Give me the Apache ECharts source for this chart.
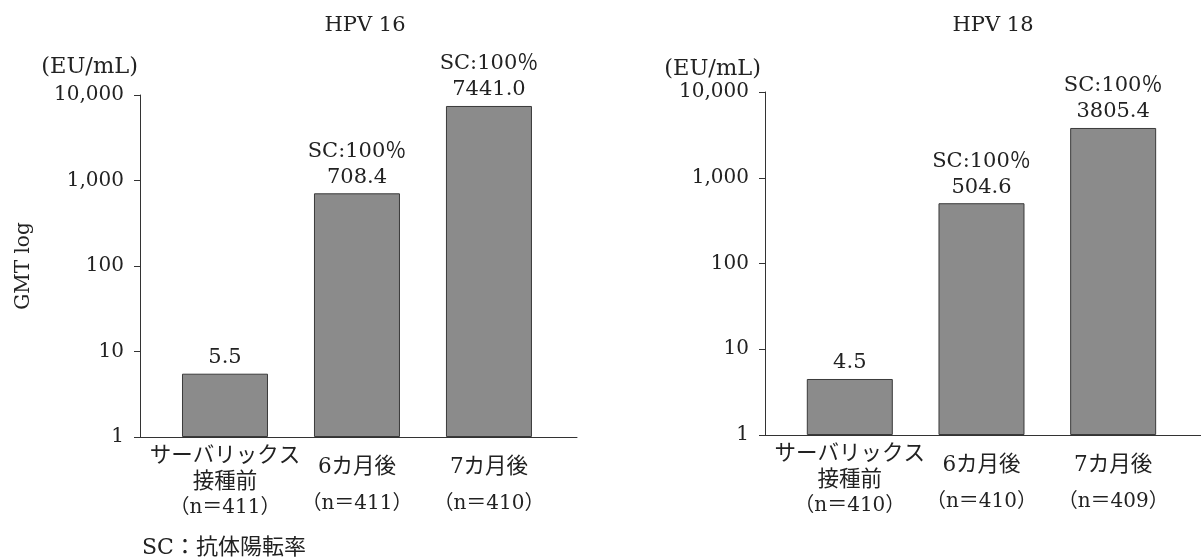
<!DOCTYPE html>
<html>
<head>
<meta charset="utf-8">
<script src="https://cdn.jsdelivr.net/npm/echarts@6/dist/echarts.min.js"></script>
<style>
html,body{margin:0;padding:0;background:#fff;}
#chart{width:1201px;height:559px;}
</style>
</head>
<body>
<div id="chart"></div>
<script>
// ---- data ----
const categoryNames = ['サーバリックス\n接種前', '6カ月後', '7カ月後'];
const categoryPos = [0, 1, 2];
const hpv16Gmt = [5.5, 708.4, 7441.0];
const hpv18Gmt = [4.5, 504.6, 3805.4];
const hpv16N = [411, 411, 410];
const hpv18N = [410, 410, 409];
const hpv16SC = [null, 100, 100];
const hpv18SC = [null, 100, 100];
const yTickValues = [1, 10, 100, 1000, 10000];
const panelTitles = ['HPV 16', 'HPV 18'];
const unitLabel = '(EU/mL)';
const yAxisTitle = 'GMT log';
const footnote = 'SC：抗体陽転率';

const SERIF = '"DejaVu Serif", "Noto Sans CJK JP", serif';
const TXT = '#222';
const AXIS = '#333';

function catLabel(nArr) {
  return function (v) {
    const i = Math.round(v);
    const name = categoryNames[i];
    const n = '{n|（n＝' + nArr[i] + '）}';
    if (name.indexOf('\n') >= 0) {
      return name.split('\n').map(s => '{l|' + s + '}').join('\n') + '\n' + n;
    }
    return '{m|' + name + '}\n' + n;
  };
}

function xAxisFor(gridIndex, nArr) {
  return {
    type: 'value', gridIndex: gridIndex,
    min: -0.644, max: 2.667,
    axisLine: { show: true, onZero: false, lineStyle: { color: AXIS, width: 1 } },
    axisTick: { show: false },
    splitLine: { show: false },
    axisLabel: {
      customValues: categoryPos,
      margin: 6,
      color: TXT,
      fontFamily: SERIF,
      fontSize: 20,
      formatter: catLabel(nArr),
      rich: {
        l: { fontSize: 21.5, lineHeight: 26, fontFamily: SERIF, color: TXT },
        m: { fontSize: 21.5, lineHeight: 48, fontFamily: SERIF, color: TXT },
        n: { fontSize: 20, lineHeight: 26, fontFamily: SERIF, color: TXT }
      }
    }
  };
}

function yAxisFor(gridIndex, withName) {
  const ax = {
    type: 'log', logBase: 10, gridIndex: gridIndex,
    min: 1, max: 10000,
    axisLine: { show: true, onZero: false, lineStyle: { color: AXIS, width: 1 } },
    axisTick: { show: true, inside: false, length: 6, customValues: yTickValues, lineStyle: { color: AXIS } },
    splitLine: { show: false },
    axisLabel: {
      customValues: yTickValues,
      margin: 16,
      color: TXT, fontFamily: SERIF, fontSize: 20,
      formatter: v => Number(v).toLocaleString('en-US')
    }
  };
  if (withName) {
    ax.name = yAxisTitle;
    ax.nameLocation = 'middle';
    ax.nameGap = 106;
    ax.nameTextStyle = { color: TXT, fontFamily: SERIF, fontSize: 20 };
  }
  return ax;
}

function barSeries(idx, values, sc) {
  return {
    type: 'bar', xAxisIndex: idx, yAxisIndex: idx,
    barWidth: 86,
    data: values.map((v, i) => [categoryPos[i], v]),
    itemStyle: { color: '#8b8b8b', borderColor: '#3a3a3a', borderWidth: 1 },
    label: {
      show: true, position: 'top', distance: 3,
      color: TXT, fontFamily: SERIF, fontSize: 21, lineHeight: 26,
      formatter: p => {
        const i = p.dataIndex;
        const val = values[i].toFixed(1);
        return sc[i] != null ? ('SC:' + sc[i] + '％\n' + val) : val;
      }
    }
  };
}

const chart = echarts.init(document.getElementById('chart'), null, { renderer: 'canvas' });
chart.setOption({
  animation: false,
  backgroundColor: '#fff',
  title: [
    { text: panelTitles[0], left: 365, top: 15, textAlign: 'center', padding: 0,
      textStyle: { color: TXT, fontFamily: SERIF, fontSize: 21, fontWeight: 'normal' } },
    { text: panelTitles[1], left: 993, top: 15, textAlign: 'center', padding: 0,
      textStyle: { color: TXT, fontFamily: SERIF, fontSize: 21, fontWeight: 'normal' } },
    { text: unitLabel, left: 138, top: 56, textAlign: 'right', padding: 0,
      textStyle: { color: TXT, fontFamily: SERIF, fontSize: 22.5, fontWeight: 'normal' } },
    { text: unitLabel, left: 761, top: 58, textAlign: 'right', padding: 0,
      textStyle: { color: TXT, fontFamily: SERIF, fontSize: 22.5, fontWeight: 'normal' } },
    { text: footnote, left: 142, top: 537, padding: 0,
      textStyle: { color: TXT, fontFamily: SERIF, fontSize: 22, fontWeight: 'normal' } }
  ],
  grid: [
    { left: 140, top: 95, width: 437, height: 342, containLabel: false },
    { left: 765, top: 92, width: 436, height: 343, containLabel: false }
  ],
  xAxis: [xAxisFor(0, hpv16N), xAxisFor(1, hpv18N)],
  yAxis: [yAxisFor(0, true), yAxisFor(1, false)],
  series: [barSeries(0, hpv16Gmt, hpv16SC), barSeries(1, hpv18Gmt, hpv18SC)]
});
</script>
</body>
</html>
